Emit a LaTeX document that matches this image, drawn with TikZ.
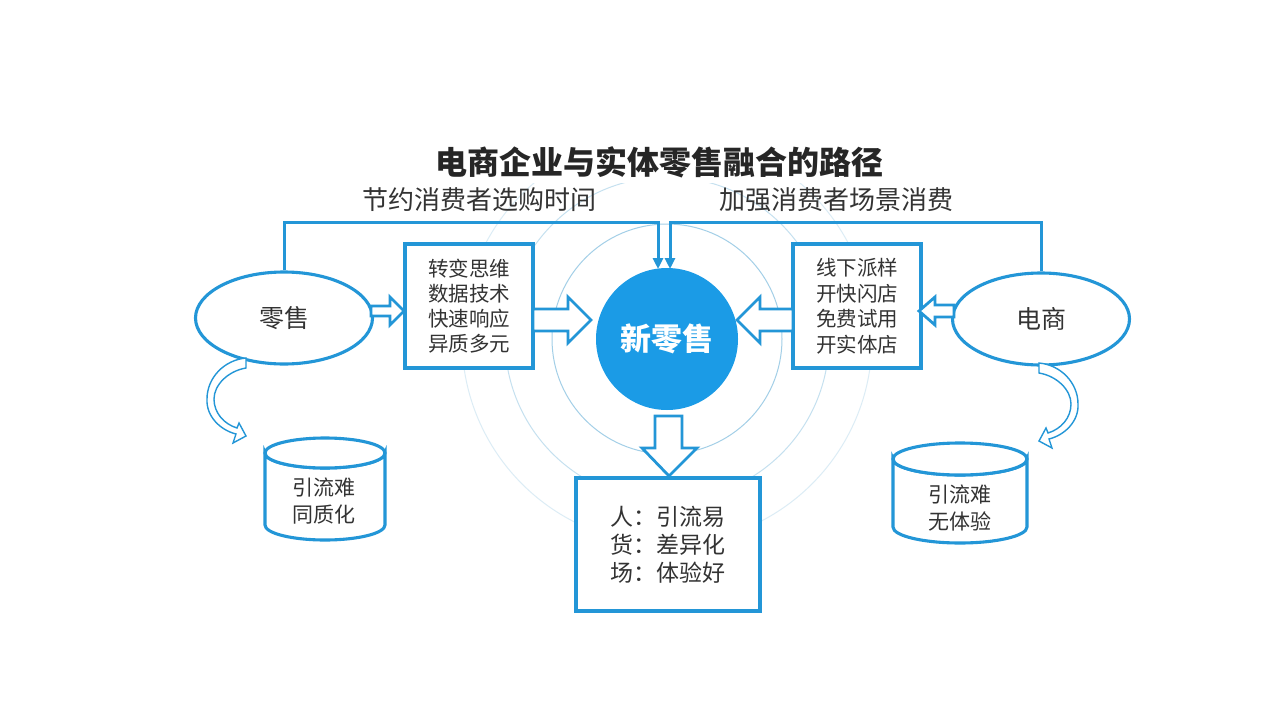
\documentclass[tikz,border=0pt]{standalone}
\usepackage{fontspec}
\setmainfont{Noto Sans CJK SC}
\usetikzlibrary{arrows.meta,shapes.geometric}
\definecolor{mainblue}{RGB}{35,150,215}
\definecolor{fillblue}{RGB}{27,155,230}
\definecolor{ringblue}{RGB}{140,195,225}
\definecolor{txt}{RGB}{51,51,51}
\tikzset{
  box/.style={draw=mainblue,line width=3.1pt,fill=white,inner sep=0pt,text=txt,align=center},
  ell/.style={ellipse,draw=mainblue,line width=3.1pt,fill=white,minimum width=177pt,minimum height=92pt,inner sep=0pt,text=txt,font=\fontsize{25}{30}\selectfont},
  blockarrow/.style={draw=mainblue,line width=2.8pt,fill=white,line join=miter},
  conn/.style={draw=mainblue,line width=3pt,-{Triangle[width=10pt,length=11pt]}},
  ring/.style={draw=ringblue,line width=1pt},
  curvarrow/.style={draw=mainblue,line width=1.4pt,fill=white},
  cyl/.style={draw=mainblue,line width=3.1pt,fill=white},
  lbl/.style={text=txt,inner sep=0pt,align=center}
}
\begin{document}
\begin{tikzpicture}[x=1pt,y=-1pt]
\useasboundingbox (0,0) rectangle (1280,720);
\fill[white] (0,0) rectangle (1280,720);
% rings
\coordinate (cc) at (667,339);
\draw[ring,opacity=0.8] (cc) circle[radius=115pt];
\begin{scope}
\clip (400,183) rectangle (940,600);
\draw[ring,opacity=0.5] (cc) circle[radius=162pt];
\draw[ring,opacity=0.3] (cc) circle[radius=205pt];
\end{scope}
% title
\node[lbl,font=\bfseries\fontsize{32}{32}\selectfont,text=black!85] (title) at (659,162) {电商企业与实体零售融合的路径};
\node[lbl,font=\fontsize{26}{26}\selectfont] (subl) at (479,200) {节约消费者选购时间};
\node[lbl,font=\fontsize{26}{26}\selectfont] (subr) at (836,200) {加强消费者场景消费};
% main nodes
\node[circle,fill=fillblue,minimum size=142pt,inner sep=0pt,text=white,font=\bfseries\fontsize{31}{31}\selectfont] (nr) at (cc) {新零售};
\node[ell] (ls) at (284,318) {零售};
\node[ell] (ds) at (1041,319) {电商};
\node[box,minimum width=128pt,minimum height=124pt,font=\fontsize{20.5}{25}\selectfont] (lb) at (469,306) {转变思维\\数据技术\\快速响应\\异质多元};
\node[box,minimum width=128pt,minimum height=124pt,font=\fontsize{20.5}{25.5}\selectfont] (rb) at (857,306) {线下派样\\开快闪店\\免费试用\\开实体店};
\node[box,minimum width=184pt,minimum height=133pt,font=\fontsize{23}{28}\selectfont] (bb) at (668,544.5) {人：引流易\\货：差异化\\场：体验好};
% top connectors
\coordinate (tl) at (658,222);
\coordinate (tr) at (670,222);
\coordinate (tle) at (658,269);
\coordinate (tre) at (670,269);
\draw[conn] (ls.north) |- (tl) -- (tle);
\draw[conn] (ds.north) |- (tr) -- (tre);
% block arrows
\draw[blockarrow] (371,306) -- (390,306) -- (390,297) -- (404,311) -- (390,325) -- (390,316) -- (371,316) -- cycle;
\draw[blockarrow] (533,309) -- (568,309) -- (568,297) -- (591,320) -- (568,343) -- (568,331) -- (533,331) -- cycle;
\draw[blockarrow] (793,309) -- (760,309) -- (760,297) -- (737,320) -- (760,343) -- (760,331) -- (793,331) -- cycle;
\draw[blockarrow] (954,305) -- (935,305) -- (935,297) -- (919,311) -- (935,325) -- (935,317) -- (954,317) -- cycle;
\draw[blockarrow] (655,416) -- (655,448) -- (642,448) -- (669,476) -- (697,448) -- (682,448) -- (682,416) -- cycle;
% curved arrows
\draw[curvarrow] (246,358) .. controls (224,360) and (207,378) .. (207,399)
  .. controls (206,416) and (220,430) .. (236,434) -- (233,443) -- (246,436) -- (239,423) -- (237,428)
  .. controls (224,424) and (214,413) .. (214,399) .. controls (214,385) and (228,371) .. (246,368) -- cycle;
\draw[curvarrow] (1039,363) .. controls (1061,365) and (1078,383) .. (1078,404)
  .. controls (1079,421) and (1065,435) .. (1049,439) -- (1052,448) -- (1039,441) -- (1046,428) -- (1048,433)
  .. controls (1061,429) and (1071,418) .. (1071,404) .. controls (1071,390) and (1057,376) .. (1039,373) -- cycle;
% cylinders
\draw[cyl] (265,453) -- (265,525) arc[start angle=180,end angle=360,x radius=60pt,y radius=15pt] -- (385,453) arc[start angle=0,end angle=-180,x radius=60pt,y radius=15pt] -- cycle;
\draw[cyl] (325,453) ellipse[x radius=60pt,y radius=15pt];
\node[lbl,font=\fontsize{21}{27}\selectfont] (lc) at (324,501) {引流难\\同质化};
\draw[cyl] (893,459) -- (893,527) arc[start angle=180,end angle=360,x radius=67pt,y radius=16pt] -- (1027,459) arc[start angle=0,end angle=-180,x radius=67pt,y radius=16pt] -- cycle;
\draw[cyl] (960,459) ellipse[x radius=67pt,y radius=16pt];
\node[lbl,font=\fontsize{21}{27}\selectfont] (rc) at (960,508) {引流难\\无体验};
\end{tikzpicture}
\end{document}
